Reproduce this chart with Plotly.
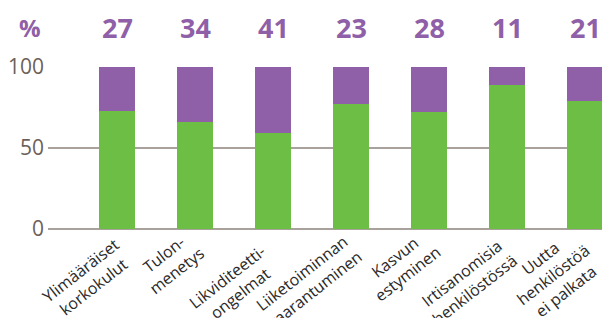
import plotly.graph_objects as go

categories = ["Ylimääräiset<br>korkokulut", "Tulon-<br>menetys", "Likviditeetti-<br>ongelmat",
              "Liiketoiminnan<br>vaarantuminen", "Kasvun<br>estyminen", "Irtisanomisia<br>henkilöstössä",
              "Uutta<br>henkilöstöä<br>ei palkata"]
purple_vals = [27, 34, 41, 23, 28, 11, 21]
green_vals = [100 - v for v in purple_vals]

# label placement (pixel offsets of the rotated label centre from bar centre / axis)
label_dx = [-30, -25, -40, -43, -28, -39, -32]
label_dy = [-49, -33, -56, -52, -36, -52, -46]

GREEN = "#6dbe45"
PURPLE = "#8f5fa8"
GRID = "#a9a19b"
TXT = "#6b615a"

x = list(range(len(categories)))
fig = go.Figure()
fig.add_bar(x=x, y=green_vals, marker_color=GREEN, width=0.45, marker_line_width=0)
fig.add_bar(x=x, y=purple_vals, marker_color=PURPLE, width=0.45, marker_line_width=0)

for i, v in enumerate(purple_vals):
    fig.add_annotation(x=i, y=1.244, xref="x", yref="paper", text=f"<b>{v}</b>", showarrow=False,
                       font=dict(size=27, color=PURPLE, family="Open Sans"),
                       xanchor="center", yanchor="middle")
fig.add_annotation(x=-0.032, y=1.244, xref="paper", yref="paper", text="<b>%</b>", showarrow=False,
                   font=dict(size=24, color=PURPLE, family="Open Sans"),
                   xanchor="center", yanchor="middle")

for i, lab in enumerate(categories):
    fig.add_annotation(x=i, y=0, xref="x", yref="y", text=lab, showarrow=False, textangle=-38,
                       xanchor="center", yanchor="middle", align="center",
                       xshift=label_dx[i], yshift=label_dy[i],
                       font=dict(size=16, color="#2a2a2a", family="Open Sans"))

fig.update_layout(
    barmode="stack", width=602, height=318, showlegend=False,
    margin=dict(l=48, r=0, t=67, b=89),
    plot_bgcolor="white", paper_bgcolor="white",
    xaxis=dict(range=[-0.885, 6.218], showticklabels=False, automargin=False,
               showgrid=False, zeroline=False, showline=False),
    yaxis=dict(range=[0, 100], tickvals=[0, 50, 100], showgrid=True, gridcolor=GRID, gridwidth=2,
               zeroline=True, zerolinecolor=GRID, zerolinewidth=2, automargin=False,
               tickfont=dict(size=21, color=TXT, family="Open Sans"), ticklabelstandoff=3),
)
fig.write_html("out.html", config={"displayModeBar": False},
               post_script="document.body.style.margin='0px';document.body.style.overflow='hidden';")
